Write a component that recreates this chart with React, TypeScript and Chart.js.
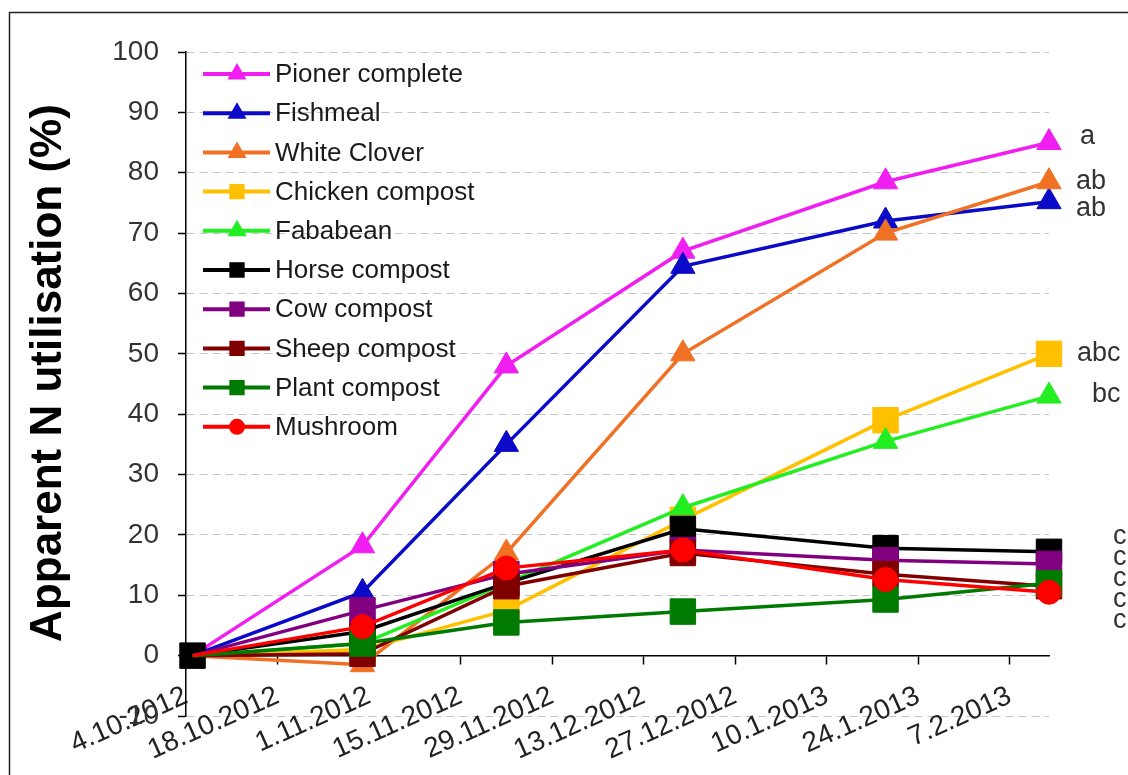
import { useEffect, useRef } from 'react';
import { Chart, registerables } from 'chart.js';
import { drawPoint } from 'chart.js/helpers';

Chart.register(...registerables);

// Sampling dates, as days after 4.10.2012
const sampleDays = [1, 27, 49, 76, 107, 132];

// Axis ticks every two weeks
const tickDays = [0, 14, 28, 42, 56, 70, 84, 98, 112, 126];
const tickLabels = [
  '4.10.2012', '18.10.2012', '1.11.2012', '15.11.2012', '29.11.2012',
  '13.12.2012', '27.12.2012', '10.1.2013', '24.1.2013', '7.2.2013',
];

const seriesNames = [
  'Pioner complete', 'Fishmeal', 'White Clover', 'Chicken compost', 'Fababean',
  'Horse compost', 'Cow compost', 'Sheep compost', 'Plant compost', 'Mushroom',
];

// Apparent N utilisation (%)
const pionerComplete = [0, 18.2, 48, 67, 78.5, 85];
const fishmeal = [0, 10.5, 35, 64.5, 72, 75.2];
const whiteClover = [0, -1.5, 17, 50, 70, 78.5];
const chickenCompost = [0, 1, 7.5, 22.5, 39, 50];
const fababean = [0, 2, 12, 24.5, 35.5, 43];
const horseCompost = [0, 4, 12, 21, 17.8, 17.2];
const cowCompost = [0, 7.5, 13.5, 17.5, 15.8, 15.2];
const sheepCompost = [0, 0.3, 11.5, 17, 13.5, 11.5];
const plantCompost = [0, 2, 5.5, 7.3, 9.3, 12];
const mushroom = [0, 4.8, 14.5, 17.5, 12.6, 10.5];

const seriesValues = [
  pionerComplete, fishmeal, whiteClover, chickenCompost, fababean,
  horseCompost, cowCompost, sheepCompost, plantCompost, mushroom,
];

// Significance groups at the last sampling, listed top to bottom
const significance = ['a', 'ab', 'ab', 'abc', 'bc', 'c', 'c', 'c', 'c', 'c'];

const FONT = '"Liberation Sans", Arial, Helvetica, sans-serif';

const seriesStyles = [
  { color: '#f01ef0', point: 'triangle', radius: 14 },
  { color: '#0a0ac8', point: 'triangle', radius: 14 },
  { color: '#f07024', point: 'triangle', radius: 14 },
  { color: '#ffc000', point: 'rect', radius: 18 },
  { color: '#22ee22', point: 'triangle', radius: 14 },
  { color: '#000000', point: 'rect', radius: 18 },
  { color: '#800080', point: 'rect', radius: 18 },
  { color: '#800000', point: 'rect', radius: 18 },
  { color: '#007a00', point: 'rect', radius: 18 },
  { color: '#ff0000', point: 'circle', radius: 12 },
];

const legendMarkerRadius: Record<string, number> = { triangle: 7, rect: 8, circle: 6 };

// Where each significance letter sits: x in pixels, height in axis units
const significanceLayout = [
  { x: 1080, v: 86 },
  { x: 1076, v: 78.6 },
  { x: 1076, v: 74.1 },
  { x: 1077, v: 50 },
  { x: 1092, v: 43.3 },
  { x: 1113, v: 19.8 },
  { x: 1113, v: 16.3 },
  { x: 1113, v: 12.8 },
  { x: 1113, v: 9.3 },
  { x: 1113, v: 5.8 },
];

const decorations = {
  id: 'decorations',
  afterDraw(chart: any) {
    const ctx = chart.ctx as CanvasRenderingContext2D;

    // outer frame
    ctx.save();
    ctx.strokeStyle = '#222';
    ctx.lineWidth = 1.5;
    ctx.strokeRect(9.5, 12.5, 1400, 1000);
    ctx.restore();

    // y-axis title
    ctx.save();
    ctx.translate(49, 373);
    ctx.rotate(-Math.PI / 2);
    ctx.font = `bold 44px ${FONT}`;
    ctx.fillStyle = '#000';
    ctx.textAlign = 'center';
    ctx.textBaseline = 'middle';
    ctx.fillText('Apparent N utilisation (%)', 0, 0);
    ctx.restore();

    // legend: line with marker, then name
    seriesNames.forEach((name, i) => {
      const st = seriesStyles[i];
      const y = 74 + i * 39.2;
      ctx.save();
      ctx.strokeStyle = st.color;
      ctx.lineWidth = 4;
      ctx.beginPath();
      ctx.moveTo(203, y);
      ctx.lineTo(270, y);
      ctx.stroke();
      ctx.fillStyle = st.color;
      ctx.strokeStyle = st.color;
      drawPoint(ctx, { pointStyle: st.point as any, radius: legendMarkerRadius[st.point], rotation: 0, borderWidth: 1 }, 237, y);
      ctx.font = `26px ${FONT}`;
      ctx.fillStyle = '#1a1a1a';
      ctx.textAlign = 'left';
      ctx.textBaseline = 'middle';
      ctx.fillText(name, 275, y + 1);
      ctx.restore();
    });

    // significance letters
    const yScale = chart.scales.y;
    ctx.save();
    ctx.font = `27px ${FONT}`;
    ctx.fillStyle = '#333';
    ctx.textAlign = 'left';
    ctx.textBaseline = 'middle';
    significance.forEach((letter, i) => {
      const pos = significanceLayout[i];
      ctx.fillText(letter, pos.x, yScale.getPixelForValue(pos.v));
    });
    ctx.restore();
  },
};

export default function App() {
  const canvasRef = useRef<HTMLCanvasElement | null>(null);

  useEffect(() => {
    const canvas = canvasRef.current;
    if (!canvas) return;

    const datasets = seriesNames.map((name, i) => {
      const st = seriesStyles[i];
      const values = seriesValues[i];
      // only the horse compost marker is shown at the common start point
      const radii = values.map((_, j) => (j === 0 && i !== 5 ? 0 : st.radius));
      return {
        label: name,
        data: sampleDays.map((d, j) => ({ x: d, y: values[j] })),
        borderColor: st.color,
        backgroundColor: st.color,
        borderWidth: 3.5,
        pointStyle: st.point,
        pointRadius: radii,
        pointBackgroundColor: st.color,
        pointBorderColor: st.color,
        pointBorderWidth: 1,
        tension: 0,
        clip: false as const,
        order: seriesNames.length - i,
      };
    });

    const chart = new Chart(canvas, {
      type: 'line',
      data: { datasets: datasets as any },
      options: {
        animation: false,
        responsive: false,
        devicePixelRatio: 1,
        layout: { padding: { left: 0, top: 52, right: 79, bottom: 59 } },
        plugins: {
          legend: { display: false },
          tooltip: { enabled: false },
        },
        scales: {
          x: {
            type: 'linear',
            position: { y: 0 } as any,
            min: 0,
            max: 132,
            afterBuildTicks: (scale: any) => {
              scale.ticks = tickDays.map((v) => ({ value: v }));
            },
            ticks: {
              autoSkip: false,
              minRotation: 24,
              maxRotation: 24,
              padding: 16,
              color: '#222',
              font: { size: 28, family: FONT },
              callback: (value: any) => tickLabels[tickDays.indexOf(Number(value))] ?? '',
            },
            grid: {
              drawOnChartArea: false,
              drawTicks: true,
              tickLength: 8,
              tickColor: '#000',
              tickWidth: 1.5,
            },
            border: { color: '#000', width: 1.5 },
          },
          y: {
            min: -10,
            max: 100,
            afterFit: (scale: any) => {
              scale.width = 186;
            },
            ticks: {
              stepSize: 10,
              padding: 19,
              color: '#333',
              font: { size: 28, family: FONT },
            },
            grid: {
              color: '#c4c4c4',
              lineWidth: 1,
              tickColor: '#000',
              tickLength: 8,
              tickWidth: 1.5,
            },
            border: { color: '#000', width: 1.5, dash: [8, 5] },
          },
        },
      },
      plugins: [decorations],
    });

    return () => chart.destroy();
  }, []);

  return (
    <div style={{ position: 'fixed', left: 0, top: 0, width: 1128, height: 775, background: '#fff' }}>
      <canvas ref={canvasRef} width={1128} height={775} style={{ display: 'block' }} />
    </div>
  );
}
